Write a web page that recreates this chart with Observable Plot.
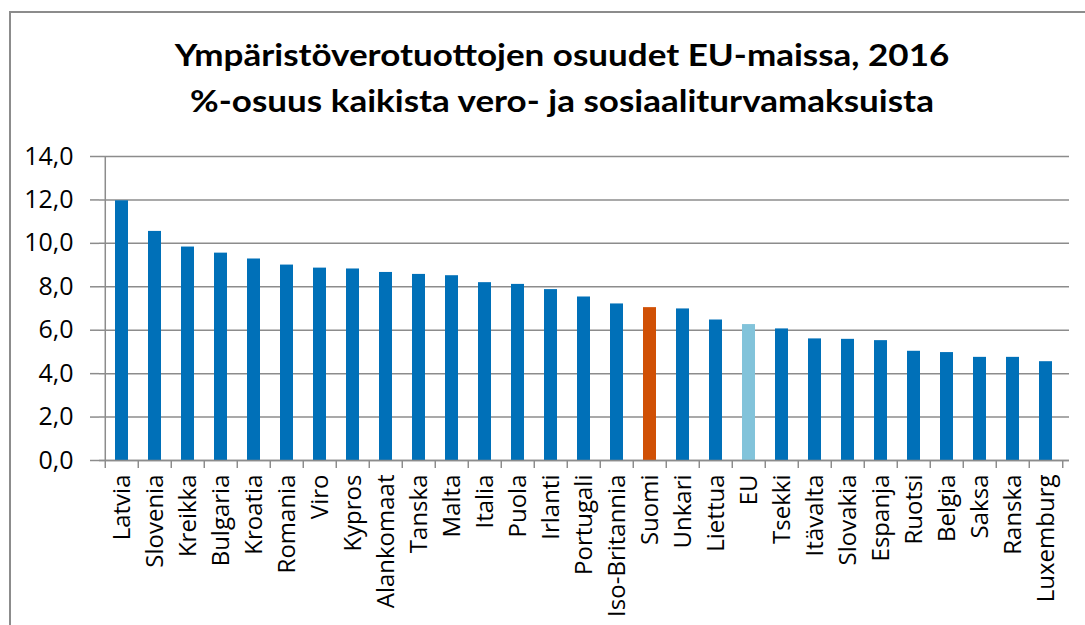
<!DOCTYPE html>
<html><head><meta charset="utf-8">
<script src="https://cdn.jsdelivr.net/npm/d3@7"></script>
<script src="https://cdn.jsdelivr.net/npm/@observablehq/plot@0.6"></script>
<style>
html,body{margin:0;padding:0;background:#fff;}
#chart{position:relative;width:1085px;height:625px;overflow:hidden;background:#fff;}
#frame{position:absolute;left:9px;top:11px;width:1200px;height:700px;border-top:2px solid #8c8c8c;border-left:2px solid #8c8c8c;}
#title{position:absolute;left:40px;width:1044px;top:31px;text-align:center;font-family:Lato,"Open Sans",sans-serif;font-weight:bold;font-size:35px;line-height:54px;color:#000;transform:scaleY(0.85);transform-origin:top center;}
#plot{position:absolute;left:0;top:130px;}
</style></head><body>
<div id="chart"><div id="frame"></div>
<div id="title">Ympäristöverotuottojen osuudet EU-maissa, 2016<br>%-osuus kaikista vero- ja sosiaaliturvamaksuista</div>
<div id="plot"></div></div>
<script>
const categories = ["Latvia","Slovenia","Kreikka","Bulgaria","Kroatia","Romania","Viro","Kypros","Alankomaat","Tanska","Malta","Italia","Puola","Irlanti","Portugali","Iso-Britannia","Suomi","Unkari","Liettua","EU","Tsekki","Itävalta","Slovakia","Espanja","Ruotsi","Belgia","Saksa","Ranska","Luxemburg"];
const values = [11.96,10.55,9.83,9.55,9.28,9.0,8.86,8.82,8.66,8.57,8.51,8.19,8.11,7.87,7.53,7.21,7.04,6.98,6.47,6.26,6.06,5.60,5.58,5.52,5.03,4.97,4.75,4.75,4.55];
const yTicks = [0,2,4,6,8,10,12,14];

const BLUE = "#0070b8", ORANGE = "#d05005", LIGHT = "#82c3da", GRID = "#8c8c8c";
const W = 1085, H = 495, ML = 99, MR = 16, MT = 26, MB = 165;
const step = (W - ML - MR) / categories.length;
const data = categories.map((name, i) => ({name, value: values[i]}));
const fmt = d => d.toFixed(1).replace(".", ",");
const fillOf = d => d.name === "Suomi" ? ORANGE : d.name === "EU" ? LIGHT : BLUE;

const plot = Plot.plot({
  width: W, height: H, marginLeft: ML, marginRight: MR, marginTop: MT, marginBottom: MB,
  style: {fontFamily: "'Open Sans', sans-serif", fontSize: "24px", color: "#000", background: "transparent", overflow: "visible"},
  x: {domain: categories, paddingInner: 0.6, paddingOuter: 0.3, label: null},
  y: {domain: [0, 14], ticks: yTicks, label: null},
  color: {type: "identity"},
  marks: [
    Plot.gridY(yTicks, {stroke: GRID, strokeOpacity: 1, strokeWidth: 1.5}),
    Plot.axisY(yTicks, {tickSize: 9, tickPadding: 17, tickFormat: fmt, stroke: GRID, strokeWidth: 1.5, fontSize: 25, fill: "#000"}),
    Plot.ruleX([categories[0]], {dx: -step / 2, stroke: GRID, strokeWidth: 1.5}),
    Plot.barY(data, {x: "name", y: "value", fill: fillOf}),
    Plot.ruleY([0], {stroke: GRID, strokeWidth: 1.5}),
    Plot.axisX({tickSize: 8, dx: -step / 2, fill: "none", stroke: GRID, strokeWidth: 1.5}),
    Plot.axisX([categories[categories.length - 1]], {tickSize: 8, dx: step / 2, fill: "none", stroke: GRID, strokeWidth: 1.5}),
    Plot.axisX({tickSize: 0, tickPadding: 14, tickRotate: -90, fontSize: 24, fill: "#000"})
  ]
});
document.getElementById("plot").appendChild(plot);
</script>
</body></html>
